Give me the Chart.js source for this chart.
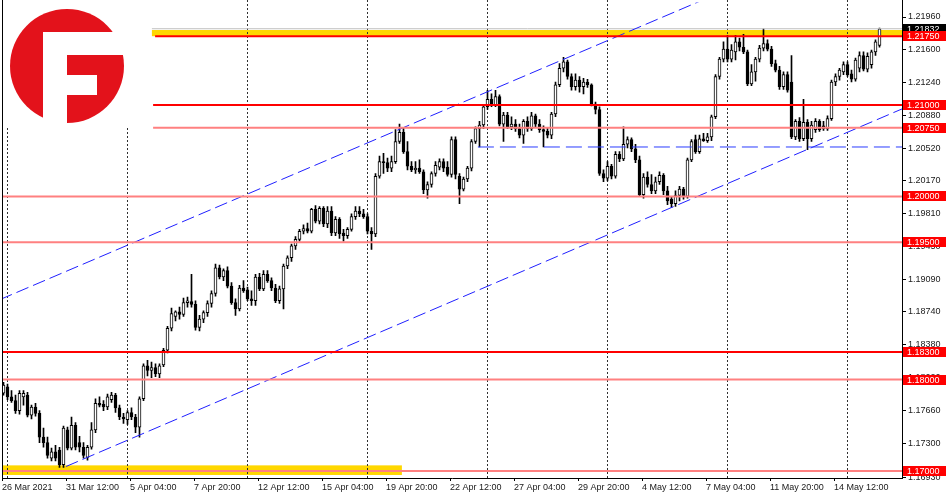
<!DOCTYPE html>
<html>
<head>
<meta charset="utf-8">
<title>EURUSD H4</title>
<script src="https://cdn.jsdelivr.net/npm/chart.js@4.4.1/dist/chart.umd.min.js"></script>
<style>
    html, body { margin: 0; padding: 0; background: #fff; }
    canvas { display: block; }
</style>
</head>
<body>
<canvas id="chart" width="950" height="500"></canvas>
<script>
// H4 candles, 26 Mar 2021 -> 17 May 2021
const opens = [
    1.1785, 1.1792, 1.1781, 1.1777, 1.1766, 1.1781, 1.1783, 1.1761, 1.1770, 1.1763,
    1.1737, 1.1731, 1.1714, 1.1721, 1.1723, 1.1707, 1.1745, 1.1725, 1.1750, 1.1731,
    1.1726, 1.1715, 1.1726, 1.1745, 1.1774, 1.1773, 1.1770, 1.1778, 1.1783, 1.1769,
    1.1759, 1.1756, 1.1764, 1.1759, 1.1748, 1.1779, 1.1815, 1.1810, 1.1813, 1.1806,
    1.1816, 1.1832, 1.1856, 1.1869, 1.1874, 1.1871, 1.1884, 1.1885, 1.1882, 1.1857,
    1.1866, 1.1873, 1.1883, 1.1894, 1.1922, 1.1912, 1.1919, 1.1902, 1.1884, 1.1877,
    1.1900, 1.1898, 1.1888, 1.1886, 1.1912, 1.1899, 1.1915, 1.1908, 1.1900, 1.1886,
    1.1899, 1.1924, 1.1933, 1.1946, 1.1953, 1.1962, 1.1965, 1.1962, 1.1986, 1.1973,
    1.1987, 1.1970, 1.1984, 1.1960, 1.1975, 1.1960, 1.1957, 1.1964, 1.1978, 1.1984,
    1.1981, 1.1978, 1.1962, 1.1959, 1.2022, 1.2038, 1.2037, 1.2031, 1.2038, 1.2060,
    1.2070, 1.2049, 1.2033, 1.2029, 1.2031, 1.2027, 1.2007, 1.2013, 1.2025, 1.2032,
    1.2038, 1.2032, 1.2024, 1.2062, 1.2022, 1.2008, 1.2019, 1.2031, 1.2060, 1.2074,
    1.2078, 1.2098, 1.2106, 1.2100, 1.2109, 1.2079, 1.2089, 1.2076, 1.2079, 1.2074,
    1.2067, 1.2082, 1.2074, 1.2088, 1.2079, 1.2073, 1.2071, 1.2067, 1.2090, 1.2122,
    1.2140, 1.2147, 1.2131, 1.2120, 1.2127, 1.2120, 1.2125, 1.2122, 1.2101, 1.2095,
    1.2025, 1.2020, 1.2033, 1.2022, 1.2046, 1.2041, 1.2057, 1.2062, 1.2052, 1.2040,
    1.2002, 1.2021, 1.2013, 1.2006, 1.2016, 1.2023, 1.2006, 1.1997, 1.1992, 1.2001,
    1.2008, 1.2000, 1.2040, 1.2062, 1.2049, 1.2063, 1.2061, 1.2065, 1.2087, 1.2131,
    1.2150, 1.2161, 1.2150, 1.2158, 1.2169, 1.2163, 1.2158, 1.2123, 1.2136, 1.2150,
    1.2162, 1.2167, 1.2161, 1.2145, 1.2138, 1.2120, 1.2133, 1.2125, 1.2065, 1.2082,
    1.2063, 1.2081, 1.2063, 1.2073, 1.2082, 1.2077, 1.2074, 1.2085, 1.2125, 1.2131,
    1.2136, 1.2144, 1.2134, 1.2128, 1.2140, 1.2154, 1.2139, 1.2144, 1.2158, 1.2165
]
const highs = [
    1.1797, 1.1795, 1.1788, 1.1783, 1.1788, 1.1788, 1.1786, 1.1772, 1.1774, 1.1766,
    1.1747, 1.1737, 1.1725, 1.1728, 1.1726, 1.1749, 1.1748, 1.1759, 1.1753, 1.1738,
    1.1731, 1.1728, 1.1753, 1.1779, 1.1781, 1.1777, 1.1784, 1.1786, 1.1785, 1.1772,
    1.1763, 1.1766, 1.1769, 1.1762, 1.1781, 1.1817, 1.1821, 1.1819, 1.1817, 1.1817,
    1.1834, 1.1858, 1.1878, 1.1875, 1.1879, 1.1889, 1.1890, 1.1915, 1.1886, 1.1870,
    1.1875, 1.1886, 1.1897, 1.1926, 1.1925, 1.1921, 1.1923, 1.1906, 1.1888, 1.1903,
    1.1908, 1.1901, 1.1897, 1.1915, 1.1916, 1.1919, 1.1919, 1.1911, 1.1904, 1.1902,
    1.1926, 1.1935, 1.1948, 1.1956, 1.1964, 1.1969, 1.1971, 1.1987, 1.1990, 1.1989,
    1.1989, 1.1989, 1.1989, 1.1978, 1.1977, 1.1964, 1.1966, 1.1981, 1.1989, 1.1989,
    1.1986, 1.1981, 1.1966, 1.2025, 1.2044, 1.2047, 1.2042, 1.2044, 1.2073, 1.2079,
    1.2075, 1.2060, 1.2038, 1.2038, 1.2040, 1.2029, 1.2016, 1.2027, 1.2038, 1.2041,
    1.2041, 1.2038, 1.2065, 1.2065, 1.2025, 1.2021, 1.2033, 1.2062, 1.2076, 1.2082,
    1.2100, 1.2116, 1.2112, 1.2116, 1.2111, 1.2092, 1.2092, 1.2087, 1.2084, 1.2079,
    1.2084, 1.2087, 1.2092, 1.2090, 1.2084, 1.2077, 1.2075, 1.2092, 1.2125, 1.2145,
    1.2152, 1.2149, 1.2134, 1.2134, 1.2131, 1.2129, 1.2128, 1.2123, 1.2103, 1.2098,
    1.2029, 1.2038, 1.2035, 1.2049, 1.2049, 1.2076, 1.2065, 1.2064, 1.2057, 1.2044,
    1.2025, 1.2027, 1.2024, 1.2021, 1.2027, 1.2025, 1.2011, 1.2000, 1.2006, 1.2011,
    1.2010, 1.2042, 1.2062, 1.2067, 1.2067, 1.2069, 1.2069, 1.2089, 1.2133, 1.2152,
    1.2169, 1.2176, 1.2166, 1.2176, 1.2173, 1.2177, 1.2160, 1.2144, 1.2152, 1.2165,
    1.2183, 1.2171, 1.2164, 1.2149, 1.2142, 1.2136, 1.2136, 1.2154, 1.2084, 1.2086,
    1.2106, 1.2084, 1.2082, 1.2085, 1.2084, 1.2082, 1.2088, 1.2127, 1.2134, 1.2140,
    1.2147, 1.2147, 1.2138, 1.2151, 1.2158, 1.2158, 1.2157, 1.2160, 1.2171, 1.2184
]
const lows = [
    1.1783, 1.1778, 1.1775, 1.1763, 1.1762, 1.1772, 1.1759, 1.1757, 1.1760, 1.1731,
    1.1726, 1.1714, 1.1711, 1.1711, 1.1704, 1.1704, 1.1723, 1.1723, 1.1723, 1.1721,
    1.1714, 1.1712, 1.1724, 1.1742, 1.1770, 1.1766, 1.1767, 1.1775, 1.1764, 1.1756,
    1.1752, 1.1751, 1.1756, 1.1742, 1.1737, 1.1777, 1.1804, 1.1802, 1.1803, 1.1802,
    1.1814, 1.1829, 1.1853, 1.1864, 1.1866, 1.1869, 1.1879, 1.1879, 1.1854, 1.1853,
    1.1862, 1.1869, 1.1879, 1.1891, 1.1910, 1.1908, 1.1900, 1.1882, 1.1870, 1.1875,
    1.1895, 1.1886, 1.1881, 1.1881, 1.1897, 1.1897, 1.1906, 1.1897, 1.1884, 1.1883,
    1.1877, 1.1921, 1.1929, 1.1942, 1.1951, 1.1959, 1.1960, 1.1960, 1.1971, 1.1970,
    1.1967, 1.1966, 1.1957, 1.1957, 1.1954, 1.1951, 1.1954, 1.1962, 1.1975, 1.1978,
    1.1976, 1.1959, 1.1942, 1.1956, 1.2020, 1.2025, 1.2027, 1.2027, 1.2036, 1.2058,
    1.2047, 1.2029, 1.2027, 1.2025, 1.2025, 1.2003, 1.1998, 1.2010, 1.2022, 1.2029,
    1.2027, 1.2022, 1.2021, 1.2019, 1.1992, 1.2006, 1.2016, 1.2028, 1.2058, 1.2054,
    1.2074, 1.2095, 1.2098, 1.2098, 1.2077, 1.2060, 1.2074, 1.2073, 1.2071, 1.2064,
    1.2058, 1.2071, 1.2072, 1.2076, 1.2070, 1.2054, 1.2064, 1.2063, 1.2087, 1.2120,
    1.2136, 1.2128, 1.2116, 1.2116, 1.2114, 1.2112, 1.2119, 1.2099, 1.2090, 1.2023,
    1.2016, 1.2017, 1.2019, 1.2020, 1.2038, 1.2039, 1.2053, 1.2049, 1.2037, 1.2000,
    1.1998, 1.2010, 1.2003, 1.2003, 1.2013, 1.2002, 1.1991, 1.1988, 1.1989, 1.1995,
    1.1997, 1.1998, 1.2038, 1.2047, 1.2047, 1.2060, 1.2059, 1.2061, 1.2085, 1.2128,
    1.2147, 1.2147, 1.2147, 1.2149, 1.2159, 1.2156, 1.2121, 1.2121, 1.2126, 1.2147,
    1.2159, 1.2159, 1.2142, 1.2136, 1.2117, 1.2117, 1.2114, 1.2063, 1.2062, 1.2060,
    1.2061, 1.2051, 1.2060, 1.2070, 1.2071, 1.2072, 1.2072, 1.2083, 1.2121, 1.2127,
    1.2133, 1.2131, 1.2125, 1.2126, 1.2136, 1.2137, 1.2136, 1.2140, 1.2154, 1.2163
]
const closes = [
    1.1794, 1.1781, 1.1777, 1.1766, 1.1785, 1.1785, 1.1761, 1.1770, 1.1763, 1.1737,
    1.1731, 1.1717, 1.1721, 1.1714, 1.1707, 1.1747, 1.1725, 1.1750, 1.1726, 1.1726,
    1.1717, 1.1726, 1.1745, 1.1774, 1.1772, 1.1770, 1.1781, 1.1783, 1.1769, 1.1759,
    1.1757, 1.1764, 1.1759, 1.1748, 1.1779, 1.1815, 1.1810, 1.1813, 1.1806, 1.1815,
    1.1832, 1.1856, 1.1872, 1.1874, 1.1871, 1.1884, 1.1886, 1.1882, 1.1857, 1.1866,
    1.1873, 1.1883, 1.1894, 1.1922, 1.1912, 1.1919, 1.1902, 1.1884, 1.1877, 1.1900,
    1.1897, 1.1888, 1.1886, 1.1912, 1.1899, 1.1915, 1.1908, 1.1900, 1.1886, 1.1899,
    1.1924, 1.1933, 1.1946, 1.1953, 1.1962, 1.1965, 1.1962, 1.1986, 1.1973, 1.1987,
    1.1970, 1.1984, 1.1960, 1.1975, 1.1959, 1.1957, 1.1964, 1.1978, 1.1984, 1.1981,
    1.1978, 1.1962, 1.1959, 1.2022, 1.2038, 1.2037, 1.2031, 1.2038, 1.2060, 1.2070,
    1.2049, 1.2033, 1.2029, 1.2031, 1.2027, 1.2007, 1.2013, 1.2025, 1.2034, 1.2038,
    1.2031, 1.2024, 1.2062, 1.2024, 1.2008, 1.2019, 1.2031, 1.2060, 1.2074, 1.2078,
    1.2098, 1.2106, 1.2100, 1.2109, 1.2079, 1.2089, 1.2076, 1.2079, 1.2074, 1.2067,
    1.2082, 1.2074, 1.2088, 1.2079, 1.2073, 1.2071, 1.2067, 1.2090, 1.2122, 1.2140,
    1.2147, 1.2131, 1.2120, 1.2127, 1.2120, 1.2125, 1.2122, 1.2101, 1.2095, 1.2025,
    1.2020, 1.2033, 1.2022, 1.2046, 1.2041, 1.2057, 1.2062, 1.2052, 1.2040, 1.2002,
    1.2021, 1.2013, 1.2006, 1.2016, 1.2023, 1.2006, 1.1995, 1.1992, 1.2001, 1.2008,
    1.2000, 1.2040, 1.2060, 1.2049, 1.2063, 1.2061, 1.2065, 1.2087, 1.2131, 1.2150,
    1.2161, 1.2150, 1.2160, 1.2169, 1.2163, 1.2158, 1.2123, 1.2136, 1.2150, 1.2162,
    1.2167, 1.2161, 1.2145, 1.2138, 1.2120, 1.2133, 1.2116, 1.2065, 1.2082, 1.2063,
    1.2081, 1.2063, 1.2078, 1.2082, 1.2073, 1.2074, 1.2085, 1.2125, 1.2131, 1.2138,
    1.2144, 1.2133, 1.2128, 1.2149, 1.2154, 1.2139, 1.2153, 1.2158, 1.2169, 1.21832
]

// time axis labels (bar index -> text)
const timeLabelIdx = [0, 16, 32, 48, 64, 80, 96, 112, 128, 144, 160, 176, 192, 208]
const timeLabels = ['26 Mar 2021', '31 Mar 12:00', '5 Apr 04:00', '7 Apr 20:00', '12 Apr 12:00',
    '15 Apr 04:00', '19 Apr 20:00', '22 Apr 12:00', '27 Apr 04:00', '29 Apr 20:00',
    '4 May 12:00', '7 May 04:00', '11 May 20:00', '14 May 12:00']
const separatorIdx = [1, 31, 61, 91, 121, 151, 181, 211]

// price scale
const priceTicks = [1.2196, 1.2160, 1.2124, 1.2088, 1.2052, 1.2017, 1.1981, 1.1945,
    1.1909, 1.1874, 1.1838, 1.1802, 1.1766, 1.1730, 1.1693]
const priceMin = 1.16924
const priceMax = 1.22065

// drawn levels: price + bar index where the object starts
const levelPrices = [1.2175, 1.2100, 1.2075, 1.2000, 1.1950, 1.1830, 1.1800, 1.1700]
const levelStartIdx = [37.9, 37.4, 37.4, -1, -1, -1, -1, -1]
const bidPrice = 1.21832
const bidStartIdx = 37.1
const supportPrice = 1.2054
const supportStartIdx = 118.6
const channelLower = [{ x: 15.6, y: 1.17049 }, { x: 224.7, y: 1.20957 }]
const channelUpper = [{ x: -0.9, y: 1.18873 }, { x: 224.7, y: 1.23075 }]
const zoneTop = { from: 37.1, to: 224.7, low: 1.2175, high: 1.21818 }
const zoneBottom = { from: -0.2, to: 99.6, low: 1.16957, high: 1.17062 }

const xMin = -0.375
const xMax = 224.625
const FONT = '"Liberation Sans", Arial, sans-serif'
const thickLevels = [1.2175, 1.2100, 1.1830]

const idx = closes.map((_, i) => i)
const wickData = idx.map(i => ({ x: i, y: [lows[i], highs[i]] }))
const bodyData = idx.map(i => ({ x: i, y: [opens[i], closes[i]] }))
const bodyColors = idx.map(i => closes[i] >= opens[i] ? '#ffffff' : '#000000')

// thick levels are solid red, thin ones render as a soft 2px red
const levelSets = levelPrices.map((p, k) => {
    const thick = thickLevels.includes(p)
    return {
        type: 'line',
        data: [{ x: levelStartIdx[k], y: p }, { x: xMax + 1, y: p }],
        borderColor: thick ? '#ff0000' : '#ff8080',
        borderWidth: 2,
        pointRadius: 0,
        fill: false,
        order: 0
    }
})

const backdrop = {
    id: 'backdrop',
    beforeDatasetsDraw(chart) {
        const { ctx, chartArea, scales: { x, y } } = chart
        ctx.save()
        ctx.fillStyle = '#ffd700'
        for (const z of [zoneTop, zoneBottom]) {
            const x0 = Math.max(x.getPixelForValue(z.from), chartArea.left + 1)
            const x1 = Math.min(x.getPixelForValue(z.to), chartArea.right)
            const y0 = y.getPixelForValue(z.high)
            const y1 = y.getPixelForValue(z.low)
            ctx.fillRect(x0, y0, x1 - x0, y1 - y0)
        }
        // period separators, they run up to the very top of the window
        ctx.strokeStyle = '#303030'
        ctx.lineWidth = 1
        ctx.setLineDash([2, 2])
        separatorIdx.forEach(i => {
            const px = x.getPixelForValue(i)
            ctx.beginPath()
            ctx.moveTo(px, 0)
            ctx.lineTo(px, chartArea.bottom)
            ctx.stroke()
        })
        ctx.restore()
    }
}

function priceBox(ctx, py, text, fill) {
    const cy = Math.round(py)
    ctx.fillStyle = fill
    ctx.fillRect(903, cy - 5, 43, 10)
    ctx.fillStyle = '#ffffff'
    ctx.font = '9px ' + FONT
    ctx.textBaseline = 'middle'
    ctx.textAlign = 'left'
    ctx.fillText(text, 907, cy + 0.5)
}

const overlay = {
    id: 'overlay',
    afterDraw(chart) {
        const { ctx, chartArea, scales: { y } } = chart
        ctx.save()
        // frame: left edge and the top bit of the price axis line
        ctx.fillStyle = '#000'
        ctx.fillRect(chartArea.left, 0, 1, chartArea.bottom)
        ctx.fillRect(chartArea.right, 0, 1, chartArea.top + 1)

        priceBox(ctx, y.getPixelForValue(bidPrice), bidPrice.toFixed(5), '#000000')
        levelPrices.forEach(p => priceBox(ctx, y.getPixelForValue(p), p.toFixed(5), '#ff0000'))

        // logo
        ctx.fillStyle = '#ffffff'
        ctx.fillRect(3, 0, 132, 128)
        ctx.fillStyle = '#e3121b'
        ctx.beginPath()
        ctx.arc(67, 66, 57, 0, Math.PI * 2)
        ctx.fill()
        ctx.fillStyle = '#ffffff'
        ctx.fillRect(43, 32, 24, 94)
        ctx.fillRect(43, 32, 90, 23)
        ctx.fillRect(67, 75, 30, 20)
        ctx.restore()
    }
}

new Chart(document.getElementById('chart'), {
    type: 'bar',
    data: {
        datasets: [
            ...levelSets,
            {
                type: 'line',
                data: [{ x: bidStartIdx, y: bidPrice }, { x: xMax + 1, y: bidPrice }],
                borderColor: '#c0c0c0',
                borderWidth: 1,
                pointRadius: 0,
                order: 1
            },
            {
                type: 'line',
                data: [{ x: supportStartIdx, y: supportPrice }, { x: xMax + 1, y: supportPrice }],
                borderColor: '#2a3cff',
                borderWidth: 1,
                borderDash: [16, 6],
                pointRadius: 0,
                order: 0
            },
            {
                type: 'line',
                data: channelLower,
                borderColor: '#2020ff',
                borderWidth: 1,
                borderDash: [13, 5],
                pointRadius: 0,
                order: 0
            },
            {
                type: 'line',
                data: channelUpper,
                borderColor: '#2020ff',
                borderWidth: 1,
                borderDash: [13, 5],
                pointRadius: 0,
                clip: { left: 0, top: 5, right: 0, bottom: 0 },
                order: 0
            },
            {
                label: 'body',
                data: bodyData,
                backgroundColor: bodyColors,
                borderColor: '#000000',
                borderWidth: 1,
                borderSkipped: false,
                barThickness: 3,
                grouped: false,
                order: 2
            },
            {
                label: 'wick',
                data: wickData,
                backgroundColor: '#000000',
                borderWidth: 0,
                barThickness: 1,
                grouped: false,
                order: 3
            }
        ]
    },
    options: {
        responsive: false,
        animation: false,
        events: [],
        layout: { padding: { top: 5, left: 2, right: 0, bottom: 0 } },
        plugins: { legend: { display: false }, tooltip: { enabled: false } },
        scales: {
            x: {
                type: 'linear',
                min: xMin,
                max: xMax,
                offset: false,
                afterBuildTicks: scale => {
                    scale.ticks = timeLabelIdx.map(i => ({ value: i - 0.375 }))
                },
                afterFit: scale => { scale.height = 22 },
                ticks: {
                    autoSkip: false,
                    maxRotation: 0,
                    align: 'start',
                    padding: 1,
                    color: '#202020',
                    font: { family: FONT, size: 9 },
                    callback: v => timeLabels[timeLabelIdx.indexOf(Math.round(v))]
                },
                grid: { drawOnChartArea: false, drawTicks: true, tickLength: 3, color: '#000', offset: false },
                border: { display: true, color: '#000' }
            },
            y: {
                type: 'linear',
                position: 'right',
                min: priceMin,
                max: priceMax,
                afterBuildTicks: scale => {
                    scale.ticks = priceTicks.map(v => ({ value: v }))
                },
                afterFit: scale => { scale.width = 48 },
                ticks: {
                    autoSkip: false,
                    padding: 2,
                    color: '#202020',
                    font: { family: FONT, size: 9 },
                    callback: v => v.toFixed(5)
                },
                grid: { drawOnChartArea: false, drawTicks: true, tickLength: 4, color: '#000' },
                border: { display: true, color: '#000' }
            }
        }
    },
    plugins: [backdrop, overlay]
});
</script>
</body>
</html>
